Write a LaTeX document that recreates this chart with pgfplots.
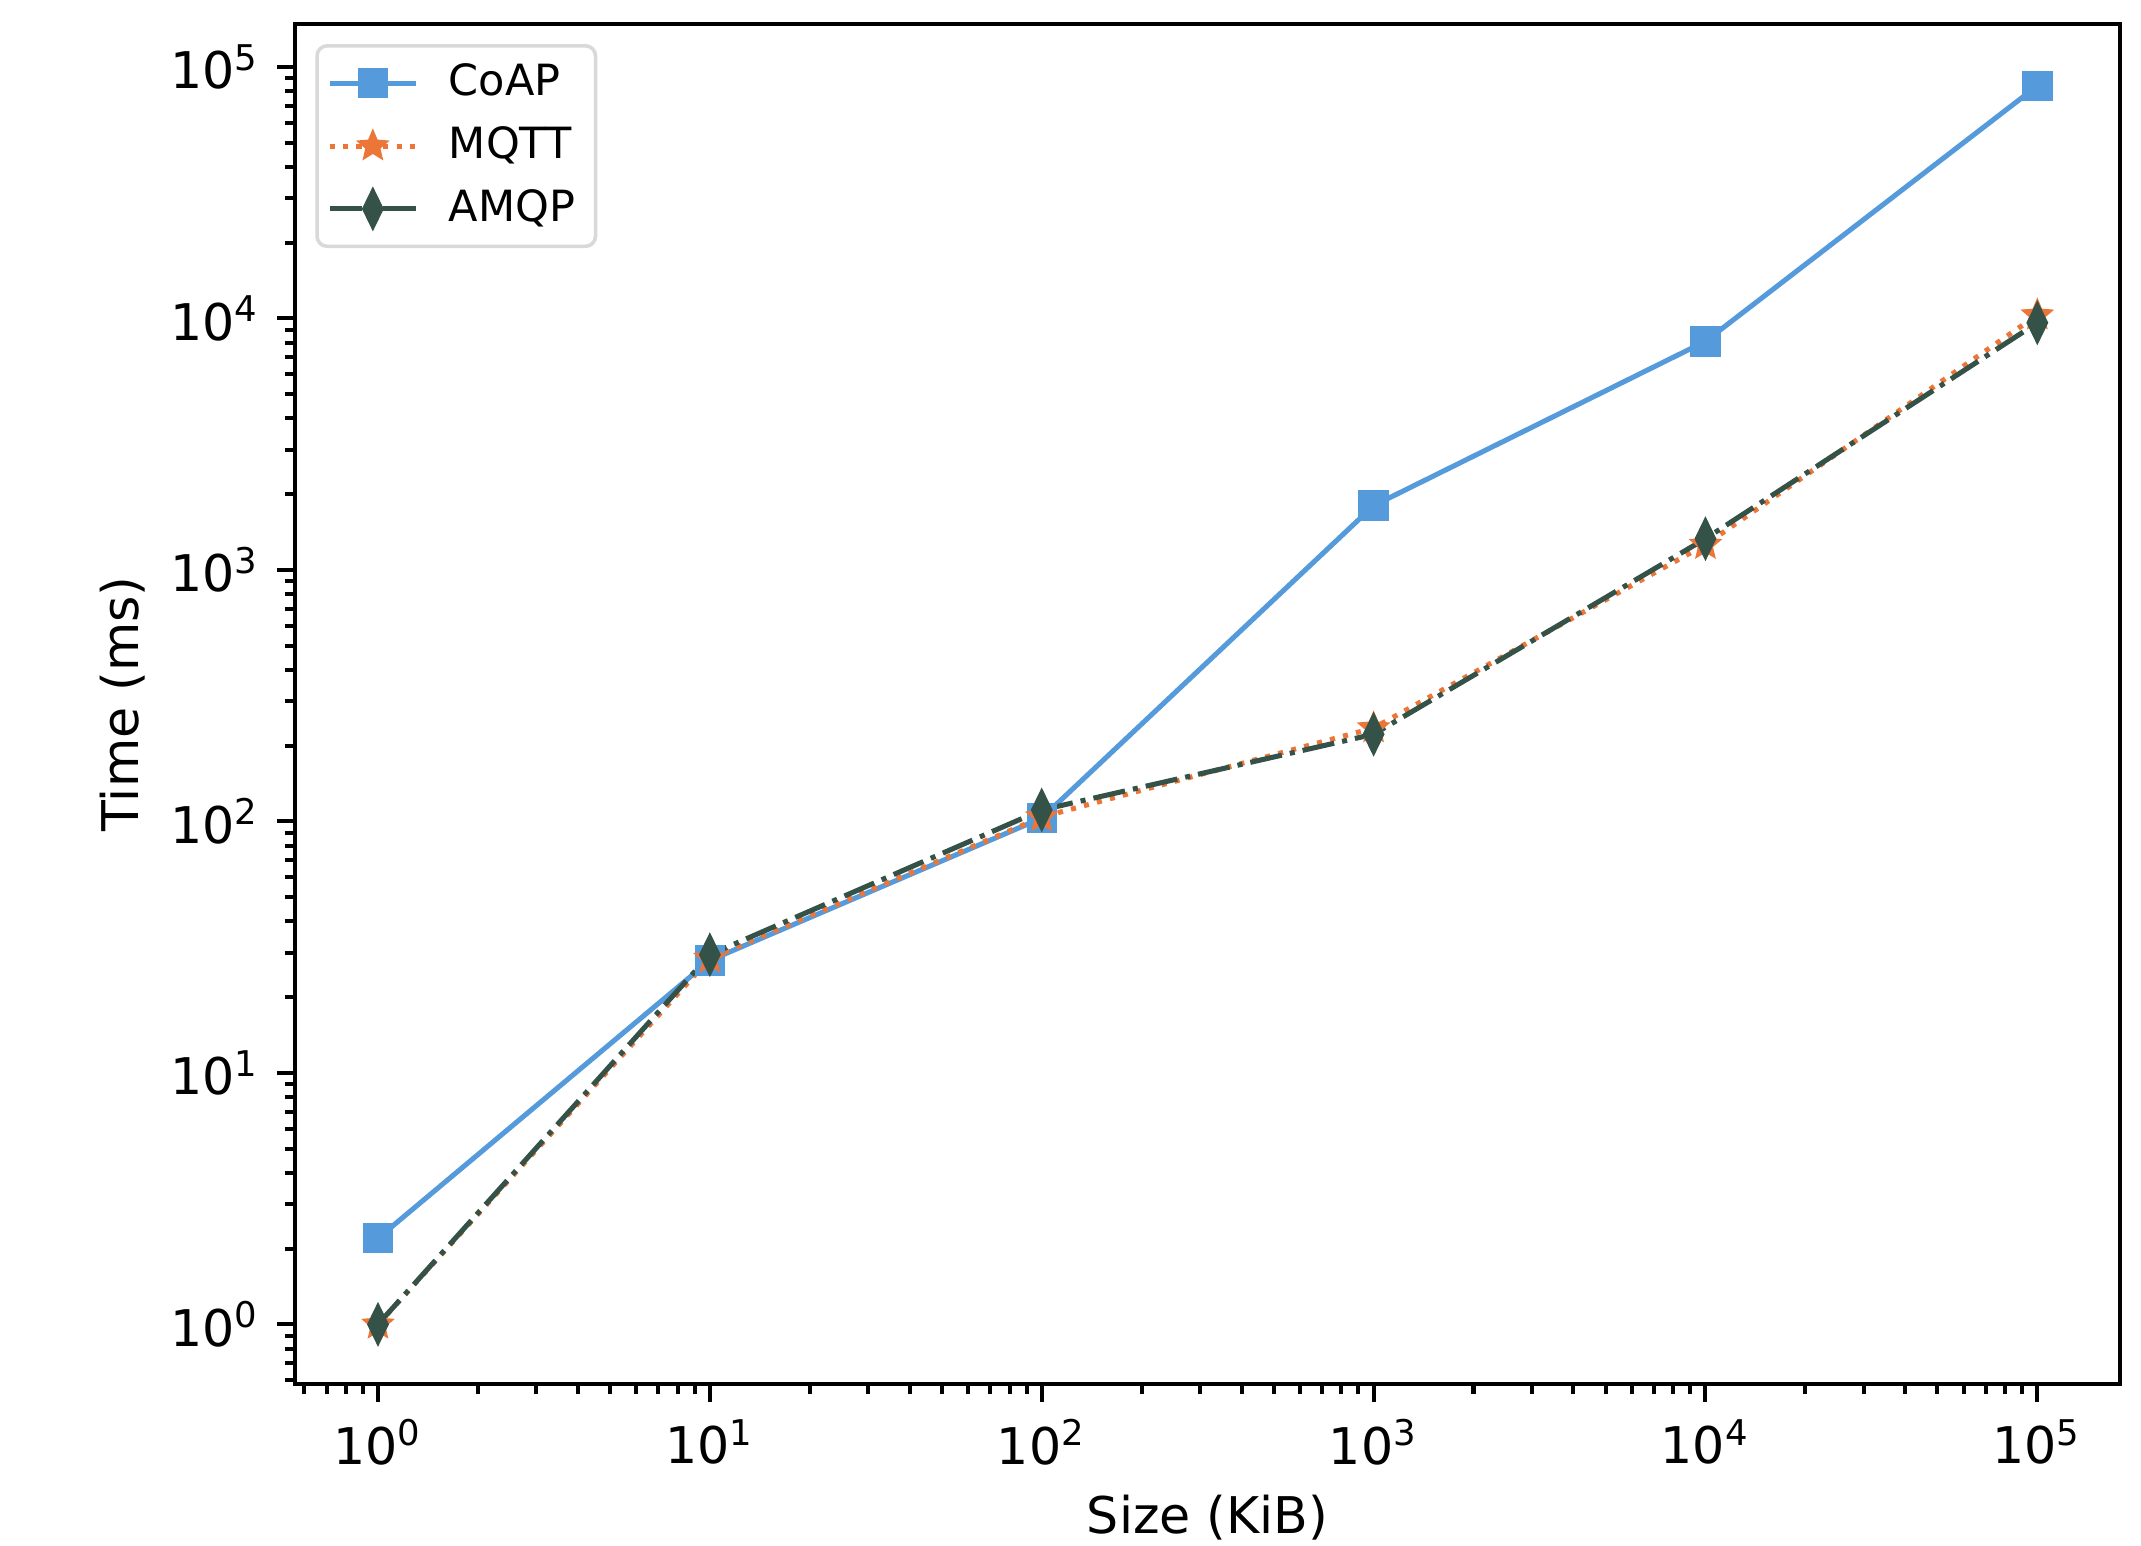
\documentclass[border=0pt]{standalone}
\usepackage{fontspec}
\setmainfont{DejaVu Sans}
\usepackage{pgfplots}
\pgfplotsset{compat=1.18}
\definecolor{coap}{RGB}{85,155,220}
\definecolor{mqtt}{RGB}{236,118,56}
\definecolor{amqp}{RGB}{53,82,72}
\pgfdeclareplotmark{fstar}{%
  \pgfpathmoveto{\pgfpointpolar{90}{\pgfplotmarksize}}%
  \pgfpathlineto{\pgfpointpolar{126}{0.45\pgfplotmarksize}}%
  \pgfpathlineto{\pgfpointpolar{162}{\pgfplotmarksize}}%
  \pgfpathlineto{\pgfpointpolar{198}{0.45\pgfplotmarksize}}%
  \pgfpathlineto{\pgfpointpolar{234}{\pgfplotmarksize}}%
  \pgfpathlineto{\pgfpointpolar{270}{0.45\pgfplotmarksize}}%
  \pgfpathlineto{\pgfpointpolar{306}{\pgfplotmarksize}}%
  \pgfpathlineto{\pgfpointpolar{342}{0.45\pgfplotmarksize}}%
  \pgfpathlineto{\pgfpointpolar{18}{\pgfplotmarksize}}%
  \pgfpathlineto{\pgfpointpolar{54}{0.45\pgfplotmarksize}}%
  \pgfpathclose
  \pgfusepathqfillstroke
}
\begin{document}
\begin{tikzpicture}
\begin{axis}[
  name=ax,
  scale only axis,
  width=360.7pt, height=268.8pt,
  xmode=log, ymode=log,
  log basis x=10, log basis y=10,
  xmin=0.5623, xmax=177828,
  ymin=0.5794, ymax=148300,
  axis line style={line width=0.8pt},
  tick style={black, line width=0.8pt},
  major tick length=3.5pt,
  minor tick length=2pt,
  tick align=outside,
  xtick pos=bottom, ytick pos=left,
  tick label style={font=\fontsize{10}{12}\selectfont},
  label style={font=\fontsize{10}{12}\selectfont},
  /pgf/number format/assume math mode=true,
  xticklabel={10\textsuperscript{\pgfmathprintnumber[fixed,precision=0]{\tick}}},
  yticklabel={10\textsuperscript{\pgfmathprintnumber[fixed,precision=0]{\tick}}},
  xlabel={Size (KiB)},
  ylabel={Time (ms)},
  xlabel style={yshift=1pt},
  ylabel style={yshift=-2pt},
  legend cell align=left,
  legend style={at={(0,1)}, anchor=north west, xshift=4pt, yshift=-4pt,
    draw=black!15, line width=0.7pt, rounded corners=2pt,
    font=\fontsize{8.5}{10}\selectfont, inner xsep=2pt, inner ysep=1.5pt,
    row sep=0.6pt},
]
\addplot[coap, line width=1pt, mark=square*, mark size=2.5pt, mark options={solid}]
  coordinates {(1,2.2) (10,28) (100,103) (1000,1800) (10000,8100) (100000,84000)};
\addlegendentry{\hspace{4pt}CoAP}
\addplot[mqtt, line width=1pt, dash pattern=on 1pt off 1.65pt, mark=fstar, mark size=2.2pt, mark options={solid}]
  coordinates {(1,1) (10,28.5) (100,104) (1000,235) (10000,1260) (100000,10300)};
\addlegendentry{\hspace{4pt}MQTT}
\addplot[amqp, line width=1pt, dash pattern=on 6.4pt off 1.6pt on 1pt off 1.6pt, mark=diamond*, mark size=3.3pt, mark options={solid, xscale=0.65}]
  coordinates {(1,1) (10,29.5) (100,111) (1000,222) (10000,1330) (100000,9600)};
\addlegendentry{\hspace{4pt}AMQP}
\end{axis}
\pgfresetboundingbox
\path[use as bounding box] ([shift={(-58.3pt,-32pt)}]ax.south west) rectangle ([shift={(4.1pt,4.7pt)}]ax.north east);
\end{tikzpicture}
\end{document}
